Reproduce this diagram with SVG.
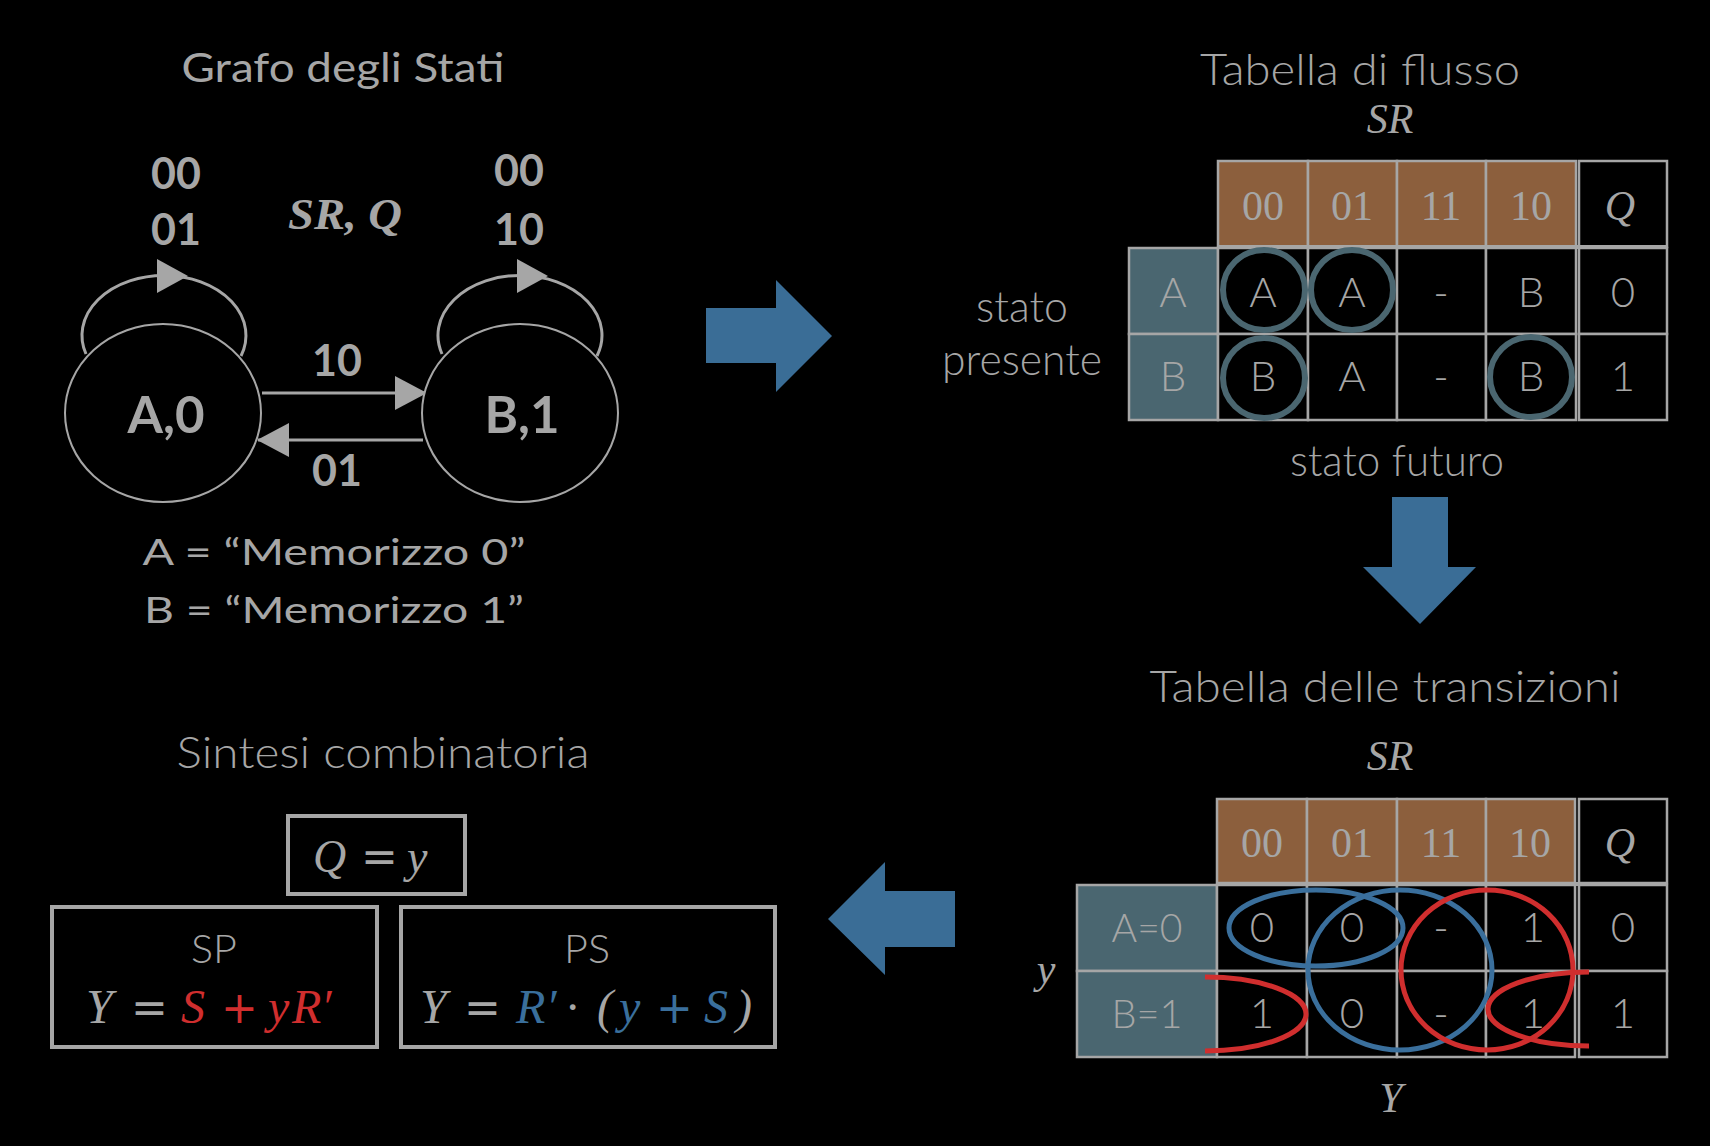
<svg xmlns="http://www.w3.org/2000/svg" xmlns:xlink="http://www.w3.org/1999/xlink" width="1710" height="1146" viewBox="0 0 1710 1146">
<style>
.t{fill:#A6A6A6;font-family:Lato,"Liberation Sans",sans-serif}
.lt{fill:#A6A6A6;font-family:Lato,"Liberation Sans",sans-serif;font-weight:300}
.b{font-weight:700}
.m{fill:#A6A6A6;font-family:"Liberation Serif","DejaVu Serif",serif;font-style:italic}
.mu{fill:#A6A6A6;font-family:"Liberation Serif","DejaVu Serif",serif}
.op{font-family:"DejaVu Sans","Liberation Sans",sans-serif;font-style:normal;font-size:44px;font-weight:normal}
.edge{fill:none;stroke:#A6A6A6;stroke-width:3}
.node{fill:#000;stroke:#A6A6A6;stroke-width:2}
.hd{fill:#8C5F3D;stroke:#A6A6A6;stroke-width:2.5}
.rl{fill:#4A6670;stroke:#A6A6A6;stroke-width:2.5}
.cl{fill:#000;stroke:#A6A6A6;stroke-width:2.5}
.circ{fill:none;stroke:#4A6670;stroke-width:6}
.bl{fill:none;stroke:#3A6F9C;stroke-width:5}
.rd{fill:none;stroke:#D02E2E;stroke-width:5}
.box{fill:none;stroke:#A6A6A6;stroke-width:4}
.big{fill:#3A6D96}
.c{text-anchor:middle}
</style>
<defs>
<marker id="ah" markerUnits="userSpaceOnUse" markerWidth="32" markerHeight="34" refX="31" refY="17" orient="auto">
<path d="M0,0 L32,17 L0,34 z" fill="#A6A6A6"/>
</marker>
<path id="loophead" d="M-31,-17 L0,0 L-31,17 z" fill="#A6A6A6"/>
</defs>
<rect width="1710" height="1146" fill="#000"/>

<!-- Titles -->
<text class="t c" x="343" y="82" font-size="41" textLength="323" lengthAdjust="spacingAndGlyphs">Grafo degli Stati</text>
<text class="lt c" x="1360" y="85" font-size="44" textLength="320" lengthAdjust="spacingAndGlyphs">Tabella di flusso</text>
<text class="lt c" x="1385" y="702" font-size="44" textLength="471" lengthAdjust="spacingAndGlyphs">Tabella delle transizioni</text>
<text class="lt c" x="383" y="768" font-size="44" textLength="413" lengthAdjust="spacingAndGlyphs">Sintesi combinatoria</text>

<!-- Connectors -->
<g id="connectors">
<path class="edge" d="M86,354 A82,60 0 1 1 241,356"/>
<use xlink:href="#loophead" transform="translate(188,276)"/>
<path class="edge" d="M442,354 A82,60 0 1 1 597,356"/>
<use xlink:href="#loophead" transform="translate(548,276)"/>
<line class="edge" x1="262" y1="393" x2="426" y2="393" marker-end="url(#ah)"/>
<line class="edge" x1="423" y1="440" x2="258" y2="440" marker-end="url(#ah)"/>
<polygon class="big" points="706,308 776,308 776,280 832,336 776,392 776,363 706,363"/>
<polygon class="big" points="1392,497 1448,497 1448,567 1476,567 1420,624 1363,567 1392,567"/>
<polygon class="big" points="955,891 885,891 885,862 828,919 885,975 885,947 955,947"/>
</g>

<!-- Graph nodes -->
<g id="nodeA">
<ellipse class="node" cx="163" cy="413" rx="98" ry="89"/>
<text class="t b c" x="166" y="433" font-size="51">A,0</text>
</g>
<g id="nodeB">
<ellipse class="node" cx="520" cy="413" rx="98" ry="89"/>
<text class="t b c" x="522" y="433" font-size="51">B,1</text>
</g>
<g id="graph-labels">
<text class="t b c" x="176" y="189" font-size="43">00</text>
<text class="t b c" x="176" y="245" font-size="43">01</text>
<text class="t b c" x="519" y="186" font-size="43">00</text>
<text class="t b c" x="519" y="245" font-size="43">10</text>
<text class="t b c" x="337" y="376" font-size="43">10</text>
<text class="t b c" x="337" y="486" font-size="43">01</text>
<text class="m b c" x="345" y="229" font-size="45" textLength="114" lengthAdjust="spacingAndGlyphs">SR, Q</text>
<text class="t c" x="334" y="565" font-size="37" textLength="383" lengthAdjust="spacingAndGlyphs">A = “Memorizzo 0”</text>
<text class="t c" x="334" y="623" font-size="37" textLength="380" lengthAdjust="spacingAndGlyphs">B = “Memorizzo 1”</text>
</g>

<!-- Flow table -->
<g id="flow-table">
<text class="m c" x="1390" y="133" font-size="42">SR</text>
<text class="lt c" x="1022" y="322" font-size="44" textLength="92" lengthAdjust="spacingAndGlyphs">stato</text>
<text class="lt c" x="1022" y="375" font-size="44" textLength="160" lengthAdjust="spacingAndGlyphs">presente</text>
<text class="lt c" x="1397" y="476" font-size="44" textLength="214" lengthAdjust="spacingAndGlyphs">stato futuro</text>
<rect class="hd" x="1218" y="161" width="90" height="86"/>
<rect class="hd" x="1308" y="161" width="89" height="86"/>
<rect class="hd" x="1397" y="161" width="89" height="86"/>
<rect class="hd" x="1486" y="161" width="90" height="86"/>
<rect class="cl" x="1579" y="161" width="88" height="86"/>
<rect class="rl" x="1129" y="248" width="89" height="86"/>
<rect class="rl" x="1129" y="334" width="89" height="86"/>
<g>
<rect class="cl" x="1218" y="248" width="90" height="86"/>
<rect class="cl" x="1308" y="248" width="89" height="86"/>
<rect class="cl" x="1397" y="248" width="89" height="86"/>
<rect class="cl" x="1486" y="248" width="90" height="86"/>
<rect class="cl" x="1579" y="248" width="88" height="86"/>
<rect class="cl" x="1218" y="334" width="90" height="86"/>
<rect class="cl" x="1308" y="334" width="89" height="86"/>
<rect class="cl" x="1397" y="334" width="89" height="86"/>
<rect class="cl" x="1486" y="334" width="90" height="86"/>
<rect class="cl" x="1579" y="334" width="88" height="86"/>
</g>
<line x1="1218" y1="247" x2="1667" y2="247" stroke="#A6A6A6" stroke-width="4"/>
<text class="mu c" x="1263" y="220" font-size="42">00</text>
<text class="mu c" x="1352" y="220" font-size="42">01</text>
<text class="mu c" x="1441" y="220" font-size="42">11</text>
<text class="mu c" x="1531" y="220" font-size="42">10</text>
<text class="m c" x="1620" y="220" font-size="42">Q</text>
<text class="lt c" x="1173" y="307" font-size="42">A</text>
<text class="lt c" x="1173" y="391" font-size="42">B</text>
<text class="lt c" x="1263" y="307" font-size="42">A</text>
<text class="lt c" x="1352" y="307" font-size="42">A</text>
<text class="lt c" x="1441" y="307" font-size="42">-</text>
<text class="lt c" x="1531" y="307" font-size="42">B</text>
<text class="lt c" x="1623" y="307" font-size="42">0</text>
<text class="lt c" x="1263" y="391" font-size="42">B</text>
<text class="lt c" x="1352" y="391" font-size="42">A</text>
<text class="lt c" x="1441" y="391" font-size="42">-</text>
<text class="lt c" x="1531" y="391" font-size="42">B</text>
<text class="lt c" x="1623" y="391" font-size="42">1</text>
<ellipse class="circ" cx="1264" cy="290" rx="41" ry="40"/>
<ellipse class="circ" cx="1352" cy="290" rx="41" ry="40"/>
<ellipse class="circ" cx="1264" cy="378" rx="41" ry="40"/>
<ellipse class="circ" cx="1531" cy="377" rx="41" ry="40"/>
</g>

<!-- Transition table -->
<g id="transition-table">
<text class="m c" x="1390" y="770" font-size="42">SR</text>
<text class="m c" x="1046" y="983" font-size="42">y</text>
<text class="m c" x="1391" y="1112" font-size="42">Y</text>
<rect class="hd" x="1217" y="799" width="90" height="84"/>
<rect class="hd" x="1307" y="799" width="90" height="84"/>
<rect class="hd" x="1397" y="799" width="89" height="84"/>
<rect class="hd" x="1486" y="799" width="89" height="84"/>
<rect class="cl" x="1579" y="799" width="88" height="84"/>
<rect class="rl" x="1077" y="885" width="140" height="86"/>
<rect class="rl" x="1077" y="971" width="140" height="86"/>
<g>
<rect class="cl" x="1217" y="885" width="90" height="86"/>
<rect class="cl" x="1307" y="885" width="90" height="86"/>
<rect class="cl" x="1397" y="885" width="89" height="86"/>
<rect class="cl" x="1486" y="885" width="89" height="86"/>
<rect class="cl" x="1579" y="885" width="88" height="86"/>
<rect class="cl" x="1217" y="971" width="90" height="86"/>
<rect class="cl" x="1307" y="971" width="90" height="86"/>
<rect class="cl" x="1397" y="971" width="89" height="86"/>
<rect class="cl" x="1486" y="971" width="89" height="86"/>
<rect class="cl" x="1579" y="971" width="88" height="86"/>
</g>
<line x1="1217" y1="884" x2="1667" y2="884" stroke="#A6A6A6" stroke-width="4"/>
<text class="mu c" x="1262" y="857" font-size="42">00</text>
<text class="mu c" x="1352" y="857" font-size="42">01</text>
<text class="mu c" x="1441" y="857" font-size="42">11</text>
<text class="mu c" x="1530" y="857" font-size="42">10</text>
<text class="m c" x="1620" y="857" font-size="42">Q</text>
<text class="lt c" x="1147" y="942" font-size="40" textLength="71" lengthAdjust="spacingAndGlyphs">A=0</text>
<text class="lt c" x="1147" y="1028" font-size="40" textLength="71" lengthAdjust="spacingAndGlyphs">B=1</text>
<text class="lt c" x="1262" y="942" font-size="42">0</text>
<text class="lt c" x="1352" y="942" font-size="42">0</text>
<text class="lt c" x="1441" y="942" font-size="42">-</text>
<text class="lt c" x="1533" y="942" font-size="42">1</text>
<text class="lt c" x="1623" y="942" font-size="42">0</text>
<text class="lt c" x="1262" y="1028" font-size="42">1</text>
<text class="lt c" x="1352" y="1028" font-size="42">0</text>
<text class="lt c" x="1441" y="1028" font-size="42">-</text>
<text class="lt c" x="1533" y="1028" font-size="42">1</text>
<text class="lt c" x="1623" y="1028" font-size="42">1</text>
<ellipse class="bl" cx="1316" cy="928" rx="87" ry="38"/>
<ellipse class="bl" cx="1400" cy="970" rx="92" ry="80"/>
<ellipse class="rd" cx="1487" cy="970" rx="86" ry="80"/>
<path class="rd" d="M1205,977 A101,37 0 0 1 1205,1051"/>
<path class="rd" d="M1589,972 A101,37 0 0 0 1589,1046"/>
</g>

<!-- Formulas -->
<g id="formula-q">
<rect class="box" x="288" y="816" width="177" height="78"/>
<text class="m" font-size="46" y="872"><tspan x="313">Q</tspan><tspan class="op" x="361">=</tspan><tspan x="407">y</tspan></text>
</g>
<g id="formula-sp">
<rect class="box" x="52" y="907" width="325" height="140"/>
<text class="lt c" x="214" y="963" font-size="40" textLength="46" lengthAdjust="spacingAndGlyphs">SP</text>
<text class="m" font-size="48" y="1023"><tspan x="86">Y</tspan><tspan class="op" x="131">=</tspan><tspan x="181" fill="#D02E2E">S</tspan><tspan class="op" x="221" fill="#D02E2E">+</tspan><tspan x="268" fill="#D02E2E">y</tspan><tspan x="292" fill="#D02E2E">R</tspan><tspan x="321" fill="#D02E2E">′</tspan></text>
</g>
<g id="formula-ps">
<rect class="box" x="401" y="907" width="374" height="140"/>
<text class="lt c" x="587" y="963" font-size="40" textLength="46" lengthAdjust="spacingAndGlyphs">PS</text>
<text class="m" font-size="48" y="1023"><tspan x="420">Y</tspan><tspan class="op" x="464">=</tspan><tspan x="516" fill="#3A6F9C">R</tspan><tspan x="546" fill="#3A6F9C">′</tspan><tspan class="mu" x="566" fill="#3A6F9C">·</tspan><tspan class="mu" x="597" fill="#3A6F9C">(</tspan><tspan x="619" fill="#3A6F9C">y</tspan><tspan class="op" x="656" fill="#3A6F9C">+</tspan><tspan x="704" fill="#3A6F9C">S</tspan><tspan class="mu" x="736" fill="#3A6F9C">)</tspan></text>
</g>
</svg>
